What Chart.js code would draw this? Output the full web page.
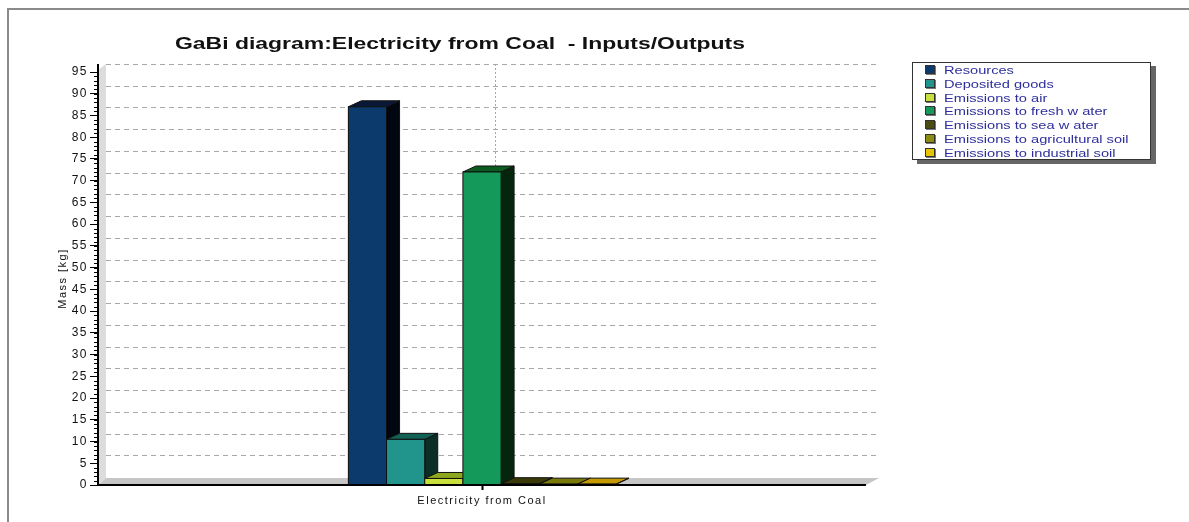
<!DOCTYPE html>
<html>
<head>
<meta charset="utf-8">
<script src="https://cdn.jsdelivr.net/npm/chart.js@4.4.1/dist/chart.umd.min.js"></script>
<style>
  html, body { margin: 0; padding: 0; background: #ffffff; }
  #wrap { position: relative; width: 1189px; height: 522px; overflow: hidden; }
  #frame { position: absolute; left: 7px; top: 8px; width: 1200px; height: 540px;
           border: 2px solid #8a8a8a; box-sizing: border-box; }
  canvas { position: absolute; left: 0; top: 0; }
  #legend { position: absolute; left: 912px; top: 62px; width: 239px; height: 98px;
            border: 1px solid #333; background: #fff; box-shadow: 5px 4px 0 #666;
            font-family: "Liberation Sans", Arial, sans-serif; font-size: 11px;
            color: #2e2e9e; box-sizing: border-box; padding: 1px 0 0 12px; }
  #legend div { height: 13.8px; line-height: 13.8px; white-space: nowrap; }
  #legend span.sw { display: inline-block; width: 8px; height: 7px; margin-right: 9px;
                    border: 1px solid #333; box-shadow: 1px 1px 0 #777; vertical-align: 0px; }
  #legend span.tx { display: inline-block; transform: scaleX(1.33); transform-origin: 0 50%; }
</style>
</head>
<body>
<div id="wrap">
  <div id="frame"></div>
  <canvas id="c" width="1189" height="522"></canvas>
  <div id="legend"></div>
</div>
<script>
// Category, series names and masses (kg)
const categories = ['Electricity from Coal'];
const seriesNames = [
  'Resources',
  'Deposited goods',
  'Emissions to air',
  'Emissions to fresh w ater',
  'Emissions to sea w ater',
  'Emissions to agricultural soil',
  'Emissions to industrial soil'
];
const massValues = [87, 10.5, 1.5, 72, 0.3, 0.2, 0.2];
const yTicks = [0, 5, 10, 15, 20, 25, 30, 35, 40, 45, 50, 55, 60, 65, 70, 75, 80, 85, 90, 95];
const chartTitle = 'GaBi diagram:Electricity from Coal  - Inputs/Outputs';

// Face colours: front, top, side
const frontColors = ['#0c3a6c', '#21958b', '#c9e03c', '#15995a', '#4b4b14', '#8c8c12', '#d6ac0a'];
const topColors   = ['#0a1838', '#136055', '#8ea51e', '#0b5a20', '#3a3a08', '#7a7a08', '#c49a00'];
const sideColors  = ['#020610', '#0b2e26', '#4a5a10', '#05250c', '#1e1e00', '#3e3e00', '#6a5400'];
const legendSwatches = ['#0c3a6c', '#21958b', '#c9e03c', '#15995a', '#4b4b14', '#8c8c12', '#e8c400'];

const DX = 13, DY = -6; // depth offset of the 3D look
const FONT = '"Liberation Sans", Arial, sans-serif';

const legend = document.getElementById('legend');
seriesNames.forEach((n, i) => {
  const d = document.createElement('div');
  d.innerHTML = '<span class="sw" style="background:' + legendSwatches[i] + '"></span><span class="tx">' + n + '</span>';
  legend.appendChild(d);
});

const threeD = {
  id: 'threeD',
  beforeDraw(chart) {
    chart.ctx.letterSpacing = '1.5px';
  },
  beforeDatasetsDraw(chart) {
    const { ctx, chartArea: a, scales: { x, y } } = chart;
    ctx.save();
    // side wall
    ctx.fillStyle = '#dcdcdc';
    ctx.beginPath();
    ctx.moveTo(a.left, a.bottom);
    ctx.lineTo(a.left + DX - 5, a.bottom + DY - 1);
    ctx.lineTo(a.left + DX - 5, a.top - 8);
    ctx.lineTo(a.left, a.top - 2);
    ctx.closePath();
    ctx.fill();
    // floor
    ctx.fillStyle = '#c6c6c6';
    ctx.beginPath();
    ctx.moveTo(a.left, a.bottom);
    ctx.lineTo(a.left + DX - 5, a.bottom + DY - 1);
    ctx.lineTo(a.right + DX, a.bottom + DY - 1);
    ctx.lineTo(a.right, a.bottom);
    ctx.closePath();
    ctx.fill();
    // back-wall dashed grid
    ctx.strokeStyle = '#a8a8a8';
    ctx.lineWidth = 1;
    ctx.setLineDash([5, 4]);
    yTicks.forEach(v => {
      if (v === 0) return;
      const py = Math.round(y.getPixelForValue(v) + DY - 2) + 0.5;
      ctx.beginPath();
      ctx.moveTo(a.left + DX - 5, py);
      ctx.lineTo(a.right + DX, py);
      ctx.stroke();
    });
    ctx.setLineDash([2, 2]);
    const cx = Math.round(x.getPixelForValue(0) + DX) + 0.5;
    ctx.beginPath();
    ctx.moveTo(cx, a.top + DY - 2);
    ctx.lineTo(cx, a.bottom + DY);
    ctx.stroke();
    ctx.restore();
  },
  afterDatasetsDraw(chart) {
    const { ctx } = chart;
    ctx.save();
    ctx.lineWidth = 1;
    ctx.strokeStyle = '#111';
    chart.data.datasets.forEach((ds, i) => {
      const bar = chart.getDatasetMeta(i).data[0];
      const l = bar.x - bar.width / 2, r = bar.x + bar.width / 2;
      const t = bar.y, b = bar.base;
      // side face
      ctx.fillStyle = sideColors[i];
      ctx.beginPath();
      ctx.moveTo(r, t); ctx.lineTo(r + DX, t + DY); ctx.lineTo(r + DX, b + DY); ctx.lineTo(r, b);
      ctx.closePath(); ctx.fill(); ctx.stroke();
      // top face
      ctx.fillStyle = topColors[i];
      ctx.beginPath();
      ctx.moveTo(l, t); ctx.lineTo(l + DX, t + DY); ctx.lineTo(r + DX, t + DY); ctx.lineTo(r, t);
      ctx.closePath(); ctx.fill(); ctx.stroke();
      // front face
      ctx.fillStyle = frontColors[i];
      ctx.fillRect(l, t, r - l, b - t);
      ctx.strokeRect(l, t, r - l, b - t);
    });
    // axis lines over the floor
    const { chartArea: a } = chart;
    ctx.strokeStyle = '#000';
    ctx.lineWidth = 2;
    ctx.beginPath();
    ctx.moveTo(a.left, a.top - 8); ctx.lineTo(a.left, a.bottom); ctx.lineTo(a.right, a.bottom);
    ctx.stroke();
    // minor ticks on the value axis
    const y = chart.scales.y;
    ctx.lineWidth = 1;
    for (let v = 0; v <= 95; v++) {
      const py = Math.round(y.getPixelForValue(v)) + 0.5;
      ctx.beginPath();
      ctx.moveTo(a.left - 4, py); ctx.lineTo(a.left, py);
      ctx.stroke();
    }
    // category tick
    const x = chart.scales.x;
    const tx = Math.round(x.getPixelForValue(0)) + 0.5;
    ctx.lineWidth = 2;
    ctx.beginPath();
    ctx.moveTo(tx, a.bottom); ctx.lineTo(tx, a.bottom + 5);
    ctx.stroke();
    ctx.restore();
  },
  afterDraw(chart) {
    // wide bold heading
    const ctx = chart.ctx;
    ctx.save();
    ctx.letterSpacing = '0px';
    ctx.font = 'bold 17px ' + FONT;
    ctx.fillStyle = '#111';
    ctx.textBaseline = 'middle';
    ctx.textAlign = 'center';
    ctx.translate(460, 44);
    ctx.scale(1.35, 1);
    ctx.fillText(chartTitle, 0, 0);
    ctx.restore();
  }
};

new Chart(document.getElementById('c'), {
  type: 'bar',
  data: {
    labels: categories,
    datasets: seriesNames.map((n, i) => ({
      label: n,
      data: [massValues[i]],
      backgroundColor: frontColors[i],
      borderColor: '#111',
      borderWidth: 1
    }))
  },
  options: {
    responsive: false,
    animation: false,
    events: [],
    layout: { padding: { left: 56, right: 323, top: 72, bottom: 11 } },
    datasets: { bar: { barPercentage: 1, categoryPercentage: 0.348 } },
    plugins: {
      legend: { display: false },
      tooltip: { enabled: false },
      title: { display: false }
    },
    scales: {
      x: {
        afterFit(s) { s.height = 26; },
        grid: { display: false, drawTicks: false },
        border: { display: false },
        ticks: { color: '#111', font: { family: FONT, size: 11 }, padding: 9 }
      },
      y: {
        min: 0,
        max: 95,
        afterFit(s) { s.width = 42; },
        afterBuildTicks(s) { s.ticks = yTicks.map(v => ({ value: v })); },
        grid: { drawOnChartArea: false, drawTicks: true, tickLength: 8, tickColor: '#000', tickWidth: 1 },
        border: { display: false },
        ticks: { color: '#111', font: { family: FONT, size: 12 }, padding: 2 },
        title: {
          display: true,
          text: 'Mass [kg]',
          color: '#111',
          font: { family: FONT, size: 11 },
          padding: { top: 0, bottom: 2 }
        }
      }
    }
  },
  plugins: [threeD]
});
</script>
</body>
</html>
